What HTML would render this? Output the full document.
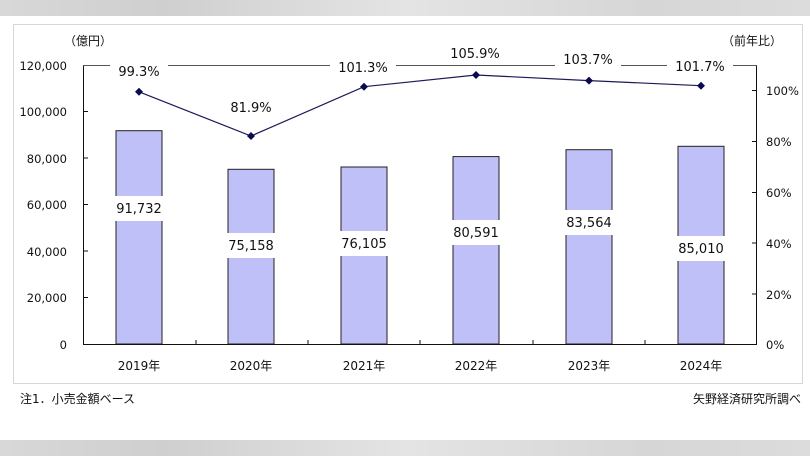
<!DOCTYPE html>
<html><head><meta charset="utf-8"><style>
html,body{margin:0;padding:0;width:810px;height:456px;overflow:hidden;background:#fff}
svg{display:block}
text{font-family:"DejaVu Sans","Noto Sans CJK JP",sans-serif;fill:#111}
</style></head><body>
<svg width="810" height="456" viewBox="0 0 810 456">
<defs><linearGradient id="g" x1="0" x2="1"><stop offset="0" stop-color="#d8d8d8"/><stop offset="0.2" stop-color="#cfcfcf"/><stop offset="0.5" stop-color="#e4e4e4"/><stop offset="0.8" stop-color="#d6d6d6"/><stop offset="1" stop-color="#dcdcdc"/></linearGradient></defs>
<rect x="0" y="0" width="810" height="16" fill="url(#g)"/>
<rect x="0" y="440" width="810" height="16" fill="url(#g)"/>
<rect x="13.5" y="24.5" width="789" height="359" fill="none" stroke="#d8d8d8"/>
<text x="64" y="45" font-size="12">（億円）</text>
<text x="722" y="45" font-size="12">（前年比）</text>
<g font-size="11.5" text-anchor="end">
<text x="67" y="70">120,000</text><text x="67" y="116">100,000</text><text x="67" y="163">80,000</text>
<text x="67" y="209">60,000</text><text x="67" y="256">40,000</text><text x="67" y="302">20,000</text><text x="67" y="349">0</text>
</g>
<g font-size="11.5">
<text x="766" y="95">100%</text><text x="766" y="146">80%</text><text x="766" y="197">60%</text>
<text x="766" y="248">40%</text><text x="766" y="299">20%</text><text x="766" y="349">0%</text>
</g>
<g fill="#c0c0f8" stroke="#222" stroke-width="1">
<rect x="116" y="130.7" width="46" height="213.3"/>
<rect x="228" y="169.3" width="46" height="174.7"/>
<rect x="341" y="167" width="46" height="177"/>
<rect x="453" y="156.6" width="46" height="187.4"/>
<rect x="566" y="149.7" width="46" height="194.3"/>
<rect x="678" y="146.3" width="46" height="197.7"/>
</g>
<g stroke="#111" stroke-width="1" fill="none">
<line x1="83.5" y1="65" x2="83.5" y2="344.5"/>
<line x1="756.5" y1="65" x2="756.5" y2="344.5"/>
<line x1="83" y1="344.5" x2="757" y2="344.5"/>
<line x1="83" y1="65.5" x2="757" y2="65.5" stroke="#555"/>
<path d="M84 111.5h4M84 158h4M84 204.5h4M84 251h4M84 297.5h4M752 90.5h4M752 141.5h4M752 192.5h4M752 243h4M752 294h4M196 344v-4M308 344v-4M420 344v-4M533 344v-4M645 344v-4"/>
<polyline points="139,91.8 251,136 364,86.7 476,75 589,80.6 701,85.7" stroke="#1a1a5a" stroke-width="1.2"/>
</g>
<g fill="#0a0a50">
<path d="M139 87.8l4 4-4 4-4-4z"/><path d="M251 132l4 4-4 4-4-4z"/><path d="M364 82.7l4 4-4 4-4-4z"/>
<path d="M476 71l4 4-4 4-4-4z"/><path d="M589 76.6l4 4-4 4-4-4z"/><path d="M701 81.7l4 4-4 4-4-4z"/>
</g>
<g fill="#fff">
<rect x="110" y="62" width="58" height="18"/><rect x="222" y="98" width="58" height="18"/>
<rect x="330" y="58" width="66" height="18"/><rect x="442" y="44" width="66" height="18"/>
<rect x="555" y="50" width="66" height="18"/><rect x="667" y="57" width="66" height="18"/>
<rect x="111" y="196" width="56" height="25"/><rect x="223" y="233" width="56" height="25"/>
<rect x="336" y="231" width="56" height="25"/><rect x="448" y="220" width="56" height="25"/>
<rect x="561" y="210" width="56" height="25"/><rect x="673" y="236" width="56" height="25"/>
</g>
<g font-size="13" text-anchor="middle">
<text x="139" y="76">99.3%</text><text x="251" y="112">81.9%</text><text x="363" y="72">101.3%</text>
<text x="475" y="58">105.9%</text><text x="588" y="64">103.7%</text><text x="700" y="71">101.7%</text>
<text x="139" y="213">91,732</text><text x="251" y="250">75,158</text><text x="364" y="248">76,105</text>
<text x="476" y="237">80,591</text><text x="589" y="227">83,564</text><text x="701" y="253">85,010</text>
</g>
<g font-size="12" text-anchor="middle">
<text x="139" y="370">2019年</text><text x="251" y="370">2020年</text><text x="364" y="370">2021年</text>
<text x="476" y="370">2022年</text><text x="589" y="370">2023年</text><text x="701" y="370">2024年</text>
</g>
<text x="20" y="403" font-size="12">注1．小売金額ベース</text>
<text x="801" y="403" font-size="12" text-anchor="end">矢野経済研究所調べ</text>
</svg>
</body></html>
